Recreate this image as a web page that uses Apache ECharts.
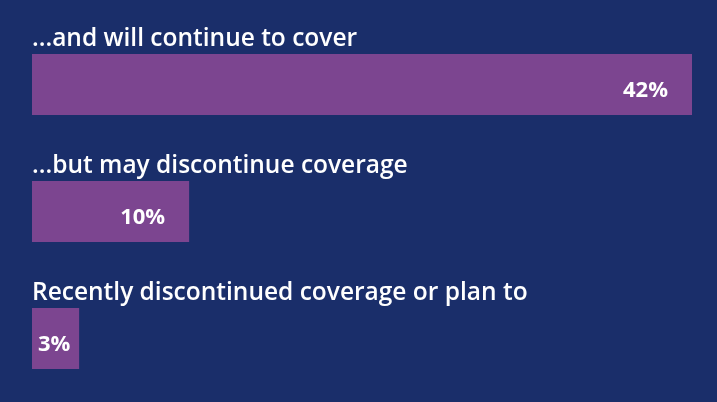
<!DOCTYPE html>
<html>
<head>
<meta charset="utf-8">
<script src="https://cdn.jsdelivr.net/npm/echarts@6/dist/echarts.min.js"></script>
<style>
  html, body { margin: 0; padding: 0; background: #1a2e6a; }
  #chart { width: 717px; height: 402px; }
</style>
</head>
<body>
<div id="chart"></div>
<script>
// Share of respondents by coverage plan
const categories = [
  '...and will continue to cover',
  '...but may discontinue coverage',
  'Recently discontinued coverage or plan to'
];
const values = [42, 10, 3];

const chart = echarts.init(document.getElementById('chart'));

chart.setOption({
  backgroundColor: '#1a2e6a',
  animation: false,
  grid: { left: 32, right: 25, top: 21, bottom: -10, containLabel: false },
  xAxis: {
    type: 'value',
    min: 0,
    max: 42,
    show: false
  },
  yAxis: {
    type: 'category',
    inverse: true,
    data: categories,
    axisLine: { show: false },
    axisTick: { show: false },
    splitLine: { show: false },
    axisLabel: {
      inside: true,
      margin: 0,
      align: 'left',
      verticalAlign: 'bottom',
      padding: [0, 0, 30, 0],
      color: '#ffffff',
      fontFamily: 'Open Sans',
      fontWeight: 600,
      fontSize: 24.5,
      lineHeight: 30
    },
    z: 10
  },
  series: [{
    type: 'bar',
    barWidth: 61,
    itemStyle: { color: '#7c4590' },
    data: values.map(function (v) {
      const narrow = v < 5;
      return {
        value: v,
        label: {
          show: true,
          position: narrow ? 'insideLeft' : 'insideRight',
          distance: narrow ? 6 : 24,
          offset: [0, 6],
          formatter: '{c}%',
          color: '#ffffff',
          fontFamily: 'Open Sans',
          fontWeight: 'bold',
          fontSize: 22
        }
      };
    })
  }]
});
</script>
</body>
</html>
